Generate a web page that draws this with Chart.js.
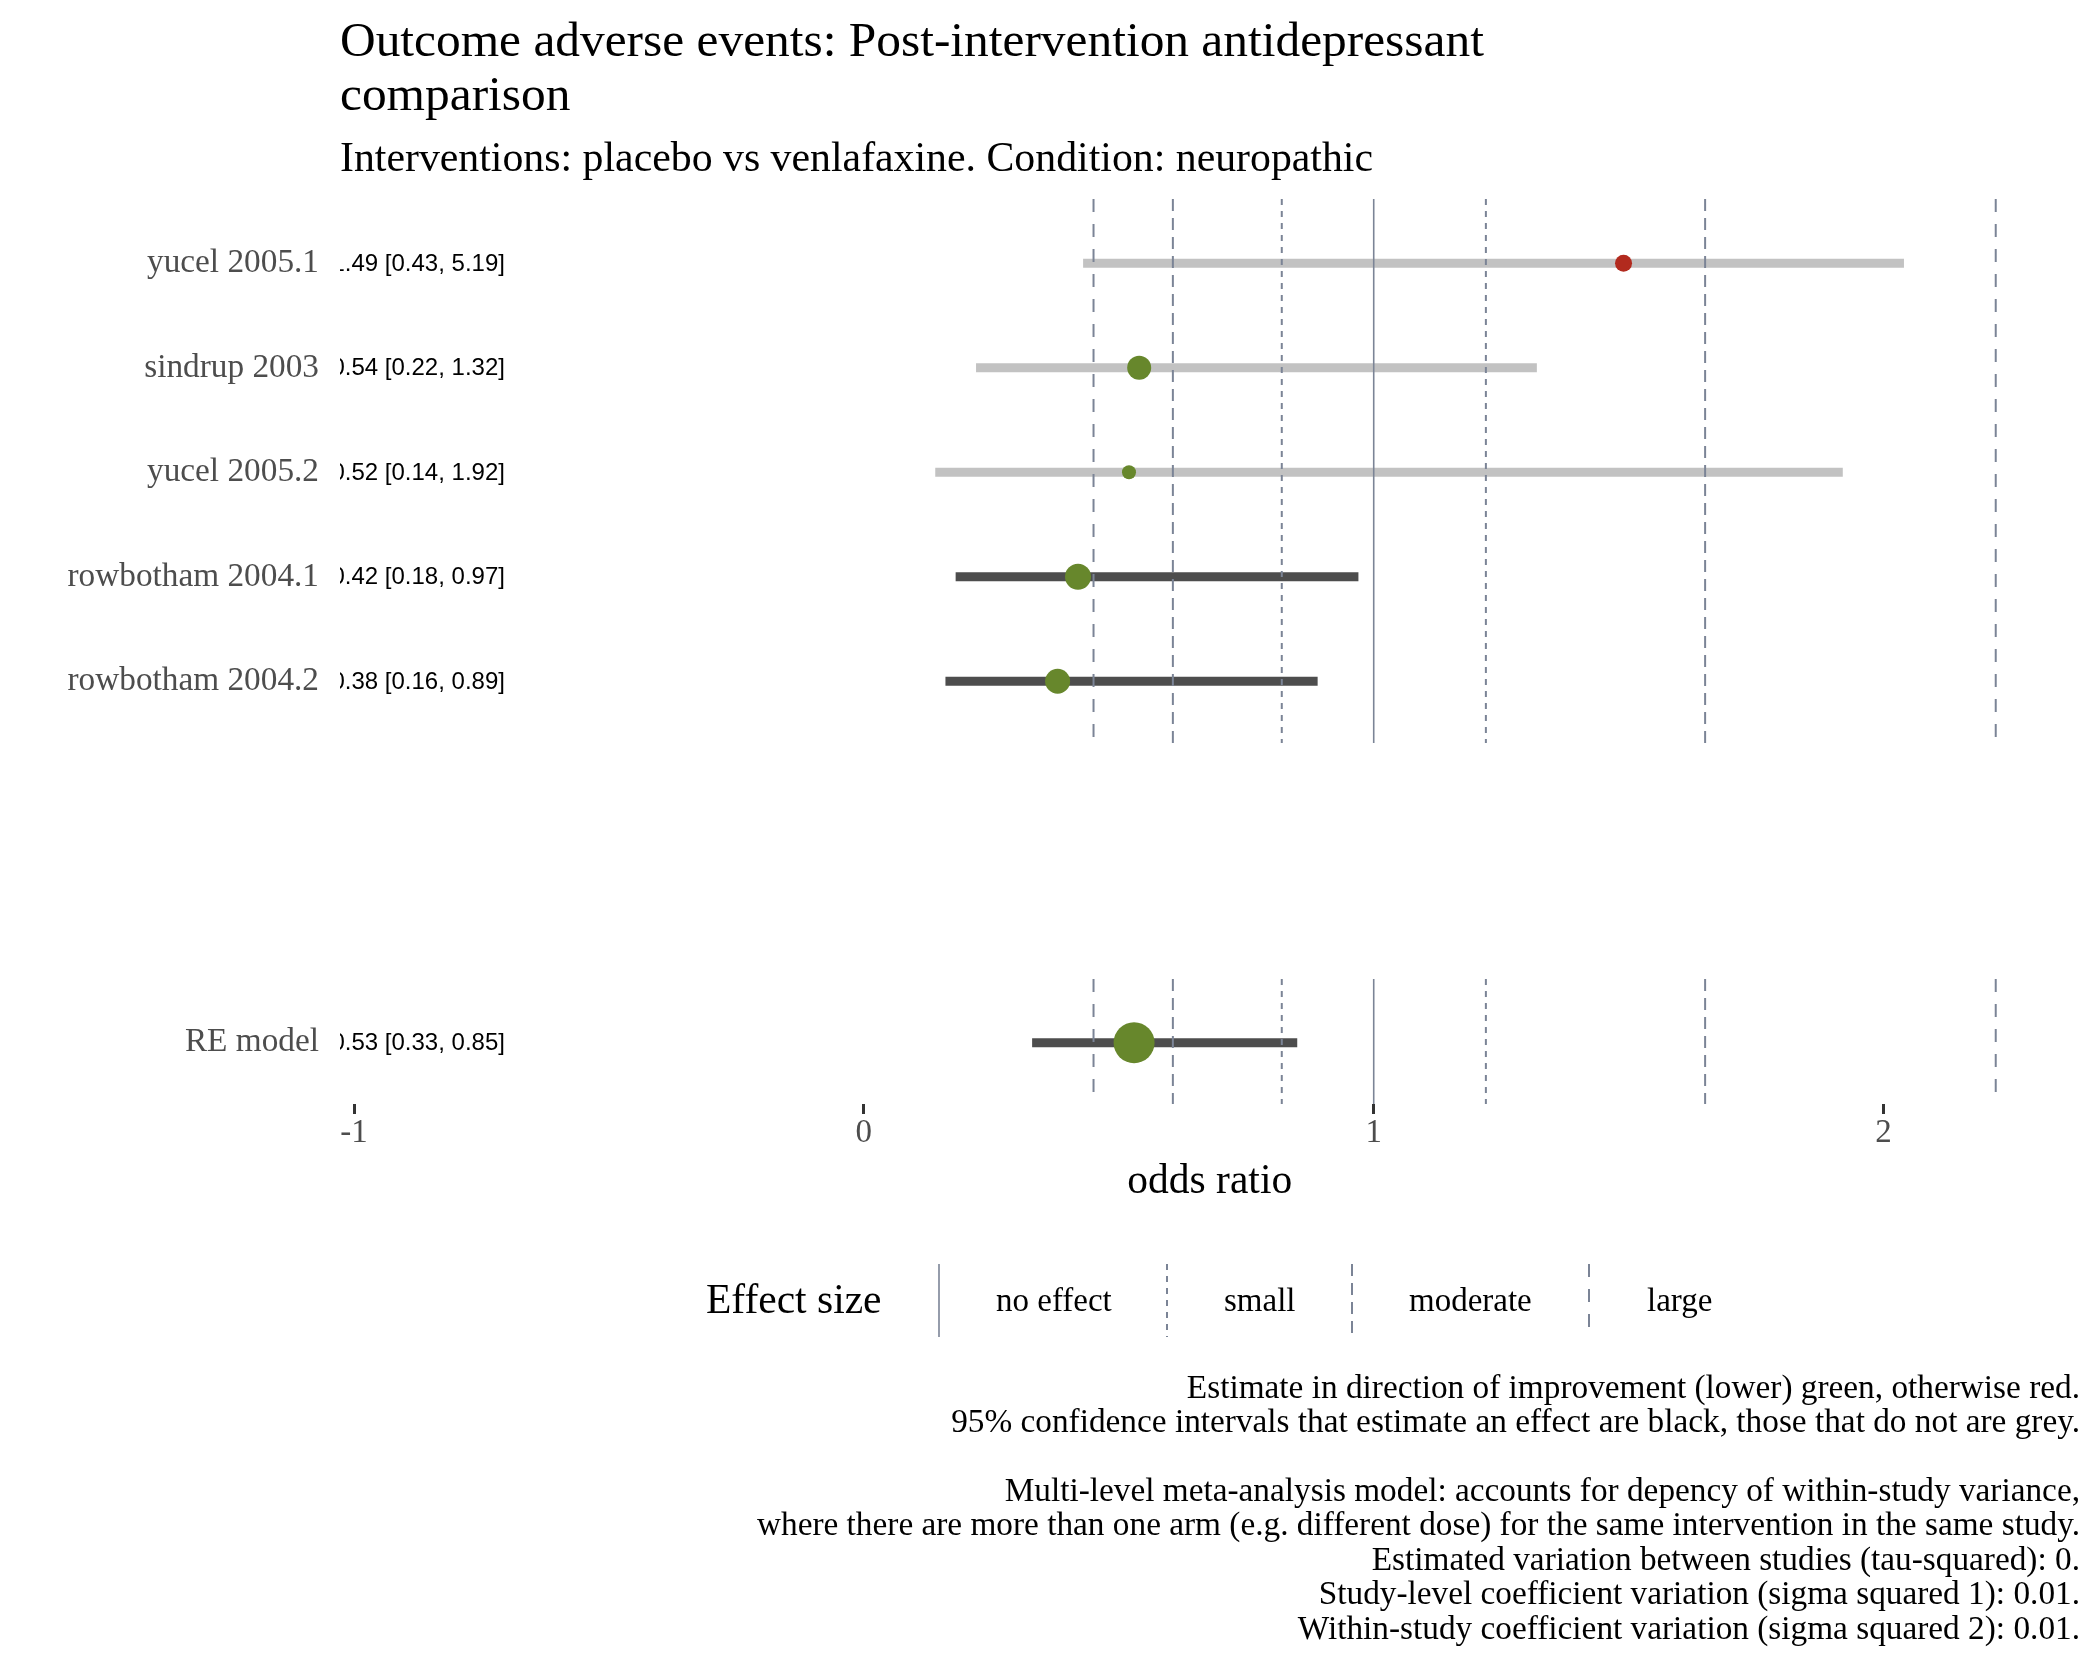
<!DOCTYPE html>
<html>
<head>
<meta charset="utf-8">
<script src="https://cdn.jsdelivr.net/npm/chart.js@4.4.1/dist/chart.umd.min.js"></script>
<style>
html,body{margin:0;padding:0;background:#ffffff;}
#wrap{width:2100px;height:1680px;position:relative;}
</style>
</head>
<body>
<div id="wrap"><canvas id="c" width="2100" height="1680"></canvas></div>
<script>
// ---------------- data ----------------
const studies   = ["yucel 2005.1", "sindrup 2003", "yucel 2005.2", "rowbotham 2004.1", "rowbotham 2004.2", "RE model"];
const estimates = [1.49, 0.54, 0.52, 0.42, 0.38, 0.53];
const ciLower   = [0.43, 0.22, 0.14, 0.18, 0.16, 0.33];
const ciUpper   = [5.19, 1.32, 1.92, 0.97, 0.89, 0.85];
const weights   = [8.5, 12, 7, 13, 12.5, 20.5];          // point radius (study weight)
const xTicks    = [-1, 0, 1, 2];
const effectLevels     = ["no effect", "small", "moderate", "large"];
const effectThresholds = [1, 1.22, 1.65, 2.22];
const ciDrawCap = 2.04;   // upper end at which intervals are cut in the picture

const titleLines = ["Outcome adverse events: Post-intervention antidepressant", "comparison"];
const subtitle = "Interventions: placebo vs venlafaxine. Condition: neuropathic";
const captionLines = [
  "Estimate in direction of improvement (lower) green, otherwise red.",
  "95% confidence intervals that estimate an effect are black, those that do not are grey.",
  "",
  "Multi-level meta-analysis model: accounts for depency of within-study variance,",
  "where there are more than one arm (e.g. different dose) for the same intervention in the same study.",
  "Estimated variation between studies (tau-squared): 0.",
  "Study-level coefficient variation (sigma squared 1): 0.01.",
  "Within-study coefficient variation (sigma squared 2): 0.01."
];

// ---------------- layout / style ----------------
const rowPos = [1.012, 2.012, 3.012, 4.012, 5.012, 8.47];
const panels = [[0.397, 5.603], [7.861, 9.057]];
const Y_MIN = 0.397, Y_MAX = 9.057;
const X_MIN = -1.0275, X_MAX = 2.3843;
const SERIF = '"Liberation Serif", "Times New Roman", serif';
const SANS = '"Liberation Sans", Arial, sans-serif';
const GREEN = '#67872c', RED = '#b22a1e', CI_GREY = '#c2c2c2', CI_DARK = '#4d4d4d';
const REF_COL = '#7b8496';
const dashes = [[], [6, 6], [12, 7], [13, 12]];

// ---------------- datasets ----------------
const datasets = [];
// points (on top)
datasets.push({
  type: 'scatter',
  order: 0,
  data: estimates.map((e, i) => ({x: e, y: rowPos[i]})),
  pointRadius: weights,
  pointHoverRadius: weights,
  pointBackgroundColor: estimates.map(e => e < 1 ? GREEN : RED),
  pointBorderWidth: 0,
  pointBorderColor: 'rgba(0,0,0,0)',
  showLine: false
});
// reference lines
effectThresholds.forEach((t, k) => {
  const vals = t === 1 ? [1] : [1 / t, t];
  vals.forEach(v => {
    panels.forEach(p => {
      datasets.push({
        type: 'line', order: 1,
        data: [{x: v, y: p[0]}, {x: v, y: p[1]}],
        borderColor: REF_COL, borderWidth: k === 0 ? 1.6 : 2,
        borderDash: dashes[k], pointRadius: 0, fill: false, tension: 0
      });
    });
  });
});
// confidence intervals
studies.forEach((s, i) => {
  const sig = ciUpper[i] < 1 || ciLower[i] > 1;
  datasets.push({
    type: 'line', order: 2,
    data: [{x: ciLower[i], y: rowPos[i]}, {x: Math.min(ciUpper[i], ciDrawCap), y: rowPos[i]}],
    borderColor: sig ? CI_DARK : CI_GREY, borderWidth: 9, borderCapStyle: 'butt',
    pointRadius: 0, fill: false
  });
});

// ---------------- plugins ----------------
const decor = {
  id: 'decor',
  beforeDatasetsDraw(chart) {
    const {ctx, chartArea: a, scales: {x, y}} = chart;
    ctx.save();
    ctx.beginPath();
    ctx.rect(a.left, a.top, a.right - a.left, a.bottom - a.top);
    ctx.clip();
    ctx.font = '24px ' + SANS;
    ctx.fillStyle = '#000000';
    ctx.textAlign = 'right';
    ctx.textBaseline = 'middle';
    studies.forEach((s, i) => {
      const txt = estimates[i].toFixed(2) + ' [' + ciLower[i].toFixed(2) + ', ' + ciUpper[i].toFixed(2) + ']';
      ctx.fillText(txt, x.getPixelForValue(-0.704), y.getPixelForValue(rowPos[i]) + 1);
    });
    ctx.restore();
  },
  afterDraw(chart) {
    const {ctx} = chart;
    ctx.save();
    ctx.fillStyle = '#000000';
    ctx.textAlign = 'left';
    ctx.textBaseline = 'alphabetic';
    ctx.font = '49.4px ' + SERIF;
    ctx.fillText(titleLines[0], 340, 56);
    ctx.fillText(titleLines[1], 340, 110);
    ctx.font = '41.8px ' + SERIF;
    ctx.fillText(subtitle, 340, 171);

    // legend
    ctx.textBaseline = 'middle';
    ctx.font = '41.5px ' + SERIF;
    ctx.fillText('Effect size', 706, 1302);
    const keyX = [939, 1167, 1352, 1589];
    const labX = [996, 1224, 1409, 1647];
    effectLevels.forEach((lab, k) => {
      ctx.beginPath();
      ctx.strokeStyle = REF_COL;
      ctx.lineWidth = k === 0 ? 1.6 : 2;
      ctx.setLineDash(dashes[k]);
      ctx.moveTo(keyX[k], 1264);
      ctx.lineTo(keyX[k], 1337);
      ctx.stroke();
      ctx.setLineDash([]);
      ctx.font = '33px ' + SERIF;
      ctx.fillStyle = '#000000';
      ctx.fillText(lab, labX[k], 1302);
    });

    // caption
    ctx.textAlign = 'right';
    ctx.font = '33.3px ' + SERIF;
    captionLines.forEach((l, i) => {
      if (l) ctx.fillText(l, 2080, 1389 + i * 34.4);
    });
    ctx.restore();
  }
};

new Chart(document.getElementById('c'), {
  type: 'scatter',
  data: {datasets},
  options: {
    responsive: false,
    devicePixelRatio: 1,
    animation: false,
    events: [],
    layout: {padding: {top: 199, right: 20, bottom: 456, left: 0}},
    plugins: {legend: {display: false}, tooltip: {enabled: false}, title: {display: false}},
    scales: {
      x: {
        type: 'linear', min: X_MIN, max: X_MAX,
        afterBuildTicks: s => { s.ticks = xTicks.map(v => ({value: v})); },
        afterFit: s => { s.height = 120; },
        grid: {display: true, drawOnChartArea: false, drawTicks: true, tickLength: 10, tickColor: '#333333', tickWidth: 3},
        border: {display: false},
        ticks: {color: '#4d4d4d', font: {family: SERIF, size: 33}, padding: 0, maxRotation: 0, autoSkip: false,
                callback: v => String(v)},
        title: {display: true, text: 'odds ratio', color: '#000000', font: {family: SERIF, size: 41.5}, padding: {top: 0, bottom: 17}}
      },
      y: {
        type: 'linear', reverse: true, min: Y_MIN, max: Y_MAX,
        afterBuildTicks: s => { s.ticks = rowPos.map(v => ({value: v})); },
        afterFit: s => { s.width = 340; },
        grid: {display: false, drawTicks: false},
        border: {display: false},
        ticks: {autoSkip: false, padding: 21, color: '#4d4d4d', font: {family: SERIF, size: 33.3},
                callback: (v, i) => studies[i]}
      }
    }
  },
  plugins: [decor]
});
</script>
</body>
</html>
